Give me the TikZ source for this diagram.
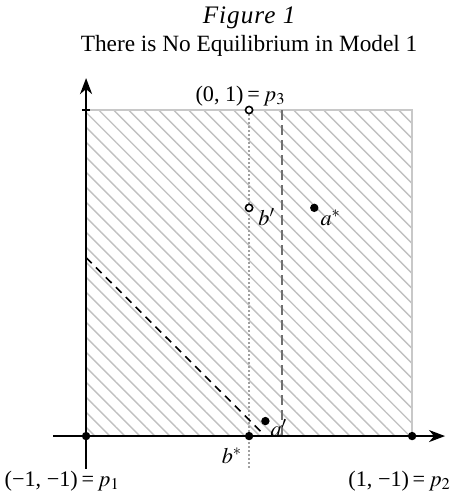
\documentclass[tikz,border=0pt]{standalone}
\usepackage{mathptmx}
\usepackage{fontspec}
\setmainfont{Liberation Serif}
\definecolor{hatchgray}{RGB}{192, 192, 192}
\definecolor{framegray}{RGB}{200, 200, 200}
\definecolor{splitgray}{RGB}{112, 112, 112}
\definecolor{dotgray}{RGB}{160, 160, 160}
\usetikzlibrary{arrows.meta, positioning, calc, patterns.meta}
\tikzset{
    titletext/.style={font=\fontsize{11.65}{14}\selectfont, inner sep=0pt},
    ptlabel/.style={font=\fontsize{11.1}{13}\selectfont, inner sep=0pt},
    axisline/.style={line width=1pt, -{Stealth[length=8pt, width=6pt, inset=2.5pt]}},
    hatched/.style={pattern={Lines[angle=-45, distance=5.3pt, line width=0.7pt]}, pattern color=hatchgray},
    frameline/.style={draw=framegray, line width=0.8pt},
    splitline/.style={draw=splitgray, line width=0.8pt, dash pattern=on 5pt off 2.5pt},
    dotline/.style={draw=dotgray, line width=0.7pt, dash pattern=on 0.8pt off 1.2pt},
    bestline/.style={draw=black, line width=0.8pt, dash pattern=on 4pt off 3pt},
    solidpt/.style={circle, fill=black, inner sep=0pt, minimum size=4.2pt},
    openpt/.style={circle, draw=black, fill=white, line width=0.8pt, inner sep=0pt, minimum size=3.6pt},
}

\begin{document}
\begin{tikzpicture}[x=81.5pt, y=81.5pt]
    \useasboundingbox (-1.528,-1.337) rectangle (1.239,1.675);

    % Title
    \node[titletext, font=\fontsize{12.6}{14}\selectfont\itshape\addfontfeature{LetterSpace=4}] (figno) at (0, 1.564) {Figure 1};
    \node[titletext] (title) at (0, 1.393) {There is No Equilibrium in Model 1};

    % Points
    \coordinate (P1) at (-1, -1);
    \coordinate (P2) at (1, -1);
    \coordinate (P3) at (0, 1);
    \coordinate (Bstar) at (0, -1);
    \coordinate (Bprime) at (0, 0.4);
    \coordinate (Astar) at (0.4, 0.4);
    \coordinate (Aprime) at (0.1, -0.908);
    \coordinate (xstart) at (-1.202, -1);
    \coordinate (xend) at (1.202, -1);
    \coordinate (ystart) at (-1, -1.202);
    \coordinate (yend) at (-1, 1.196);
    \coordinate (dottail) at (0, -1.202);
    \coordinate (splittop) at (0.2025, 1);
    \coordinate (splitbot) at (0.2025, -1);
    \coordinate (bestleft) at (-1, 0.095);
    \coordinate (bestright) at (0.1, -1);
    \coordinate (tickleft) at (-1.025, 1);
    \coordinate (tickright) at (-0.976, 1);

    % Hatched square
    \fill[hatched] (P1) rectangle (1, 1);
    \draw[frameline] (-1, 1) -- (1, 1) -- (P2);

    % Lines through the square
    \draw[dotline] (P3) -- (dottail);
    \draw[splitline] (splittop) -- (splitbot);
    \draw[bestline] (bestleft) -- (bestright);

    % Axes
    \draw[axisline] (xstart) -- (xend);
    \draw[axisline] (ystart) -- (yend);
    \draw[line width=0.7pt] (tickleft) -- (tickright);

    % Dots
    \node[solidpt] (p1) at (P1) {};
    \node[solidpt] (p2) at (P2) {};
    \node[solidpt] (bstar) at (Bstar) {};
    \node[solidpt] (astar) at (Astar) {};
    \node[solidpt] (aprime) at (Aprime) {};
    \node[openpt] (p3) at (P3) {};
    \node[openpt] (bprime) at (Bprime) {};

    % Labels
    \node[ptlabel, anchor=base west] (p3lbl) at (-0.331, 1.055) {(0, 1)\,=\,$p_3$};
    \node[ptlabel, anchor=base west] (bprimelbl) at (0.055, 0.294) {$b'$};
    \node[ptlabel, anchor=base west] (astarlbl) at (0.436, 0.294) {$a^*$};
    \node[ptlabel, anchor=base west] (aprimelbl) at (0.129, -1) {$a'$};
    \node[ptlabel, anchor=base east] (bstarlbl) at (-0.04, -1.166) {$b^*$};
    \node[ptlabel, anchor=base east] (p1lbl) at (-0.791, -1.307) {(−1, −1)\,=\,$p_1$};
    \node[ptlabel, anchor=base west] (p2lbl) at (0.607, -1.307) {(1, −1)\,=\,$p_2$};
\end{tikzpicture}
\end{document}
